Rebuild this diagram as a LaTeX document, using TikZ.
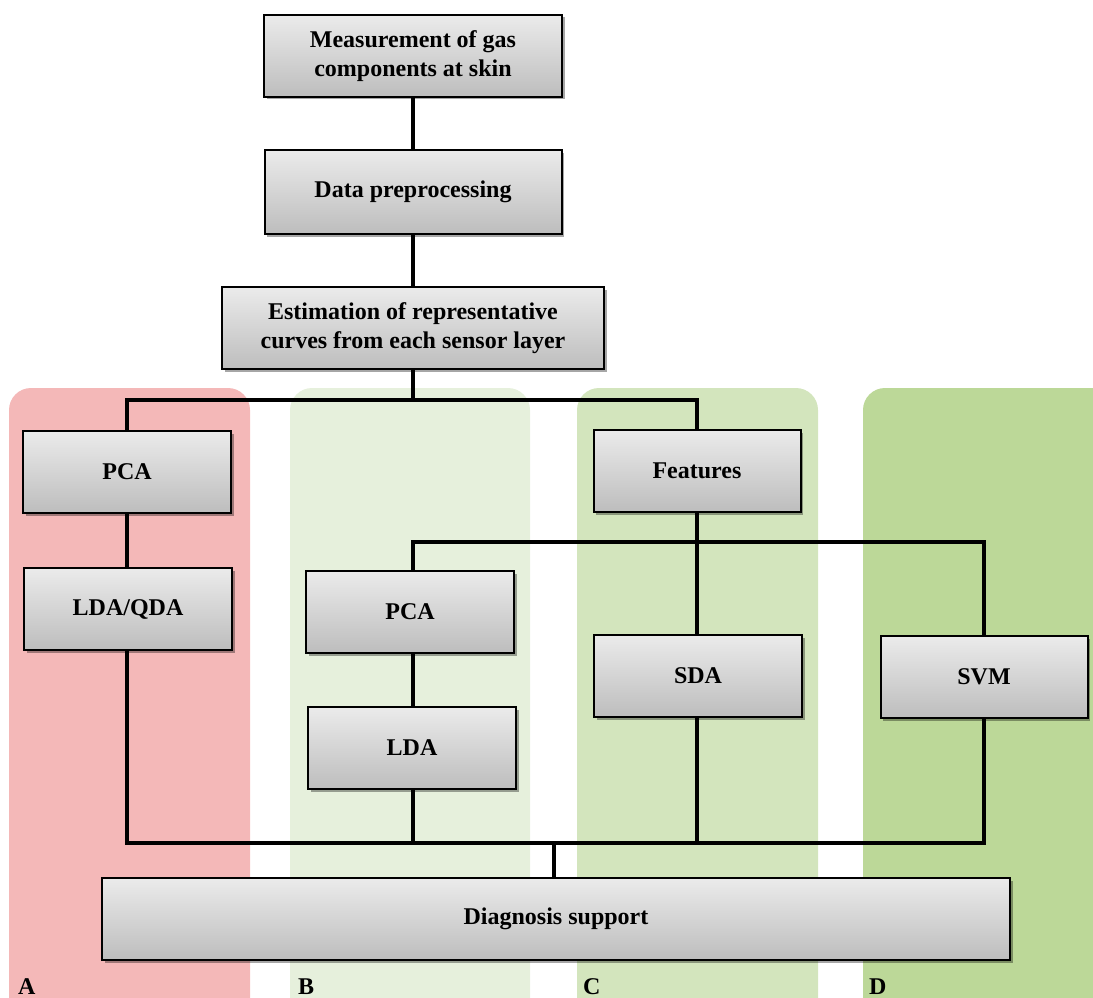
\documentclass[tikz,border=0pt]{standalone}
\usepackage{fontspec}
\setmainfont{Liberation Serif}
\usetikzlibrary{shadows}
\definecolor{colA}{HTML}{F4B8B8}
\definecolor{colB}{HTML}{E6F0DC}
\definecolor{colC}{HTML}{D3E5BD}
\definecolor{colD}{HTML}{BCD898}
\definecolor{boxtop}{HTML}{EBEBEB}
\definecolor{boxbot}{HTML}{BDBDBD}
\tikzset{
  stepbox/.style={draw=black, line width=2pt, top color=boxtop, bottom color=boxbot,
    minimum height=82pt, inner sep=2pt, align=center,
    font=\fontsize{24}{29}\selectfont\bfseries,
    drop shadow={shadow xshift=2.5pt, shadow yshift=-2.5pt, opacity=0.35, fill=black}},
  conn/.style={line width=4pt, line cap=rect},
  collabel/.style={anchor=base west, inner sep=0pt, font=\fontsize{24}{28}\selectfont\bfseries},
}
\begin{document}
\begin{tikzpicture}[x=1pt, y=-1pt]
\useasboundingbox (0,0) rectangle (1093,998);
% column backgrounds
\begin{scope}
\clip (0,0) rectangle (1093,998);
\fill[colA, rounded corners=22pt] (9,388) rectangle (250,1040);
\fill[colB, rounded corners=22pt] (290,388) rectangle (530,1040);
\fill[colC, rounded corners=22pt] (577,388) rectangle (818,1040);
\fill[colD, rounded corners=22pt] (863,388) rectangle (1140,1040);
\end{scope}
\node[collabel] (lA) at (18,994) {A};
\node[collabel] (lB) at (298,994) {B};
\node[collabel] (lC) at (583,994) {C};
\node[collabel] (lD) at (869,994) {D};

% boxes
\node[stepbox, minimum width=298pt] (meas) at (413,56) {Measurement of gas\\components at skin};
\node[stepbox, minimum width=297pt, minimum height=84pt] (prep) at (413,192) {Data preprocessing};
\node[stepbox, minimum width=382pt] (est) at (413,328) {Estimation of representative\\curves from each sensor layer};
\node[stepbox, minimum width=208pt] (pcaA) at (127,472) {PCA};
\node[stepbox, minimum width=208pt] (ldaqda) at (128,609) {LDA/QDA};
\node[stepbox, minimum width=207pt] (feat) at (697,471) {Features};
\node[stepbox, minimum width=208pt] (pcaB) at (410,612) {PCA};
\node[stepbox, minimum width=208pt] (lda) at (412,748) {LDA};
\node[stepbox, minimum width=208pt] (sda) at (698,676) {SDA};
\node[stepbox, minimum width=207pt] (svm) at (984,677) {SVM};
\node[stepbox, minimum width=908pt] (diag) at (556,919) {Diagnosis support};

% junction coordinates
\coordinate (b1L) at (127,400);
\coordinate (b1R) at (697,400);
\coordinate (b1M) at (413,400);
\coordinate (b2L) at (413,542);
\coordinate (b2M) at (697,542);
\coordinate (b2R) at (984,542);
\coordinate (b3L) at (127,843);
\coordinate (b3R) at (984,843);
\coordinate (b3M) at (554,843);

% connectors
\draw[conn] (meas.south) -- (prep.north);
\draw[conn] (prep.south) -- (est.north);
\draw[conn] (est.south) -- (b1M);
\draw[conn] (pcaA.north -| b1L) -- (b1L) -- (b1R) -- (feat.north -| b1R);
\draw[conn] (pcaA.south) -- (ldaqda.north -| pcaA.south);
\draw[conn] (feat.south -| b2M) -- (sda.north -| b2M);
\draw[conn] (pcaB.north -| b2L) -- (b2L) -- (b2R) -- (svm.north -| b2R);
\draw[conn] (pcaB.south -| b2L) -- (lda.north -| b2L);
\draw[conn] (ldaqda.south -| b3L) -- (b3L) -- (b3R) -- (svm.south -| b3R);
\draw[conn] (lda.south -| b2L) -- (b2L |- b3L);
\draw[conn] (sda.south -| b2M) -- (b2M |- b3L);
\draw[conn] (b3M) -- (diag.north -| b3M);
\end{tikzpicture}
\end{document}
